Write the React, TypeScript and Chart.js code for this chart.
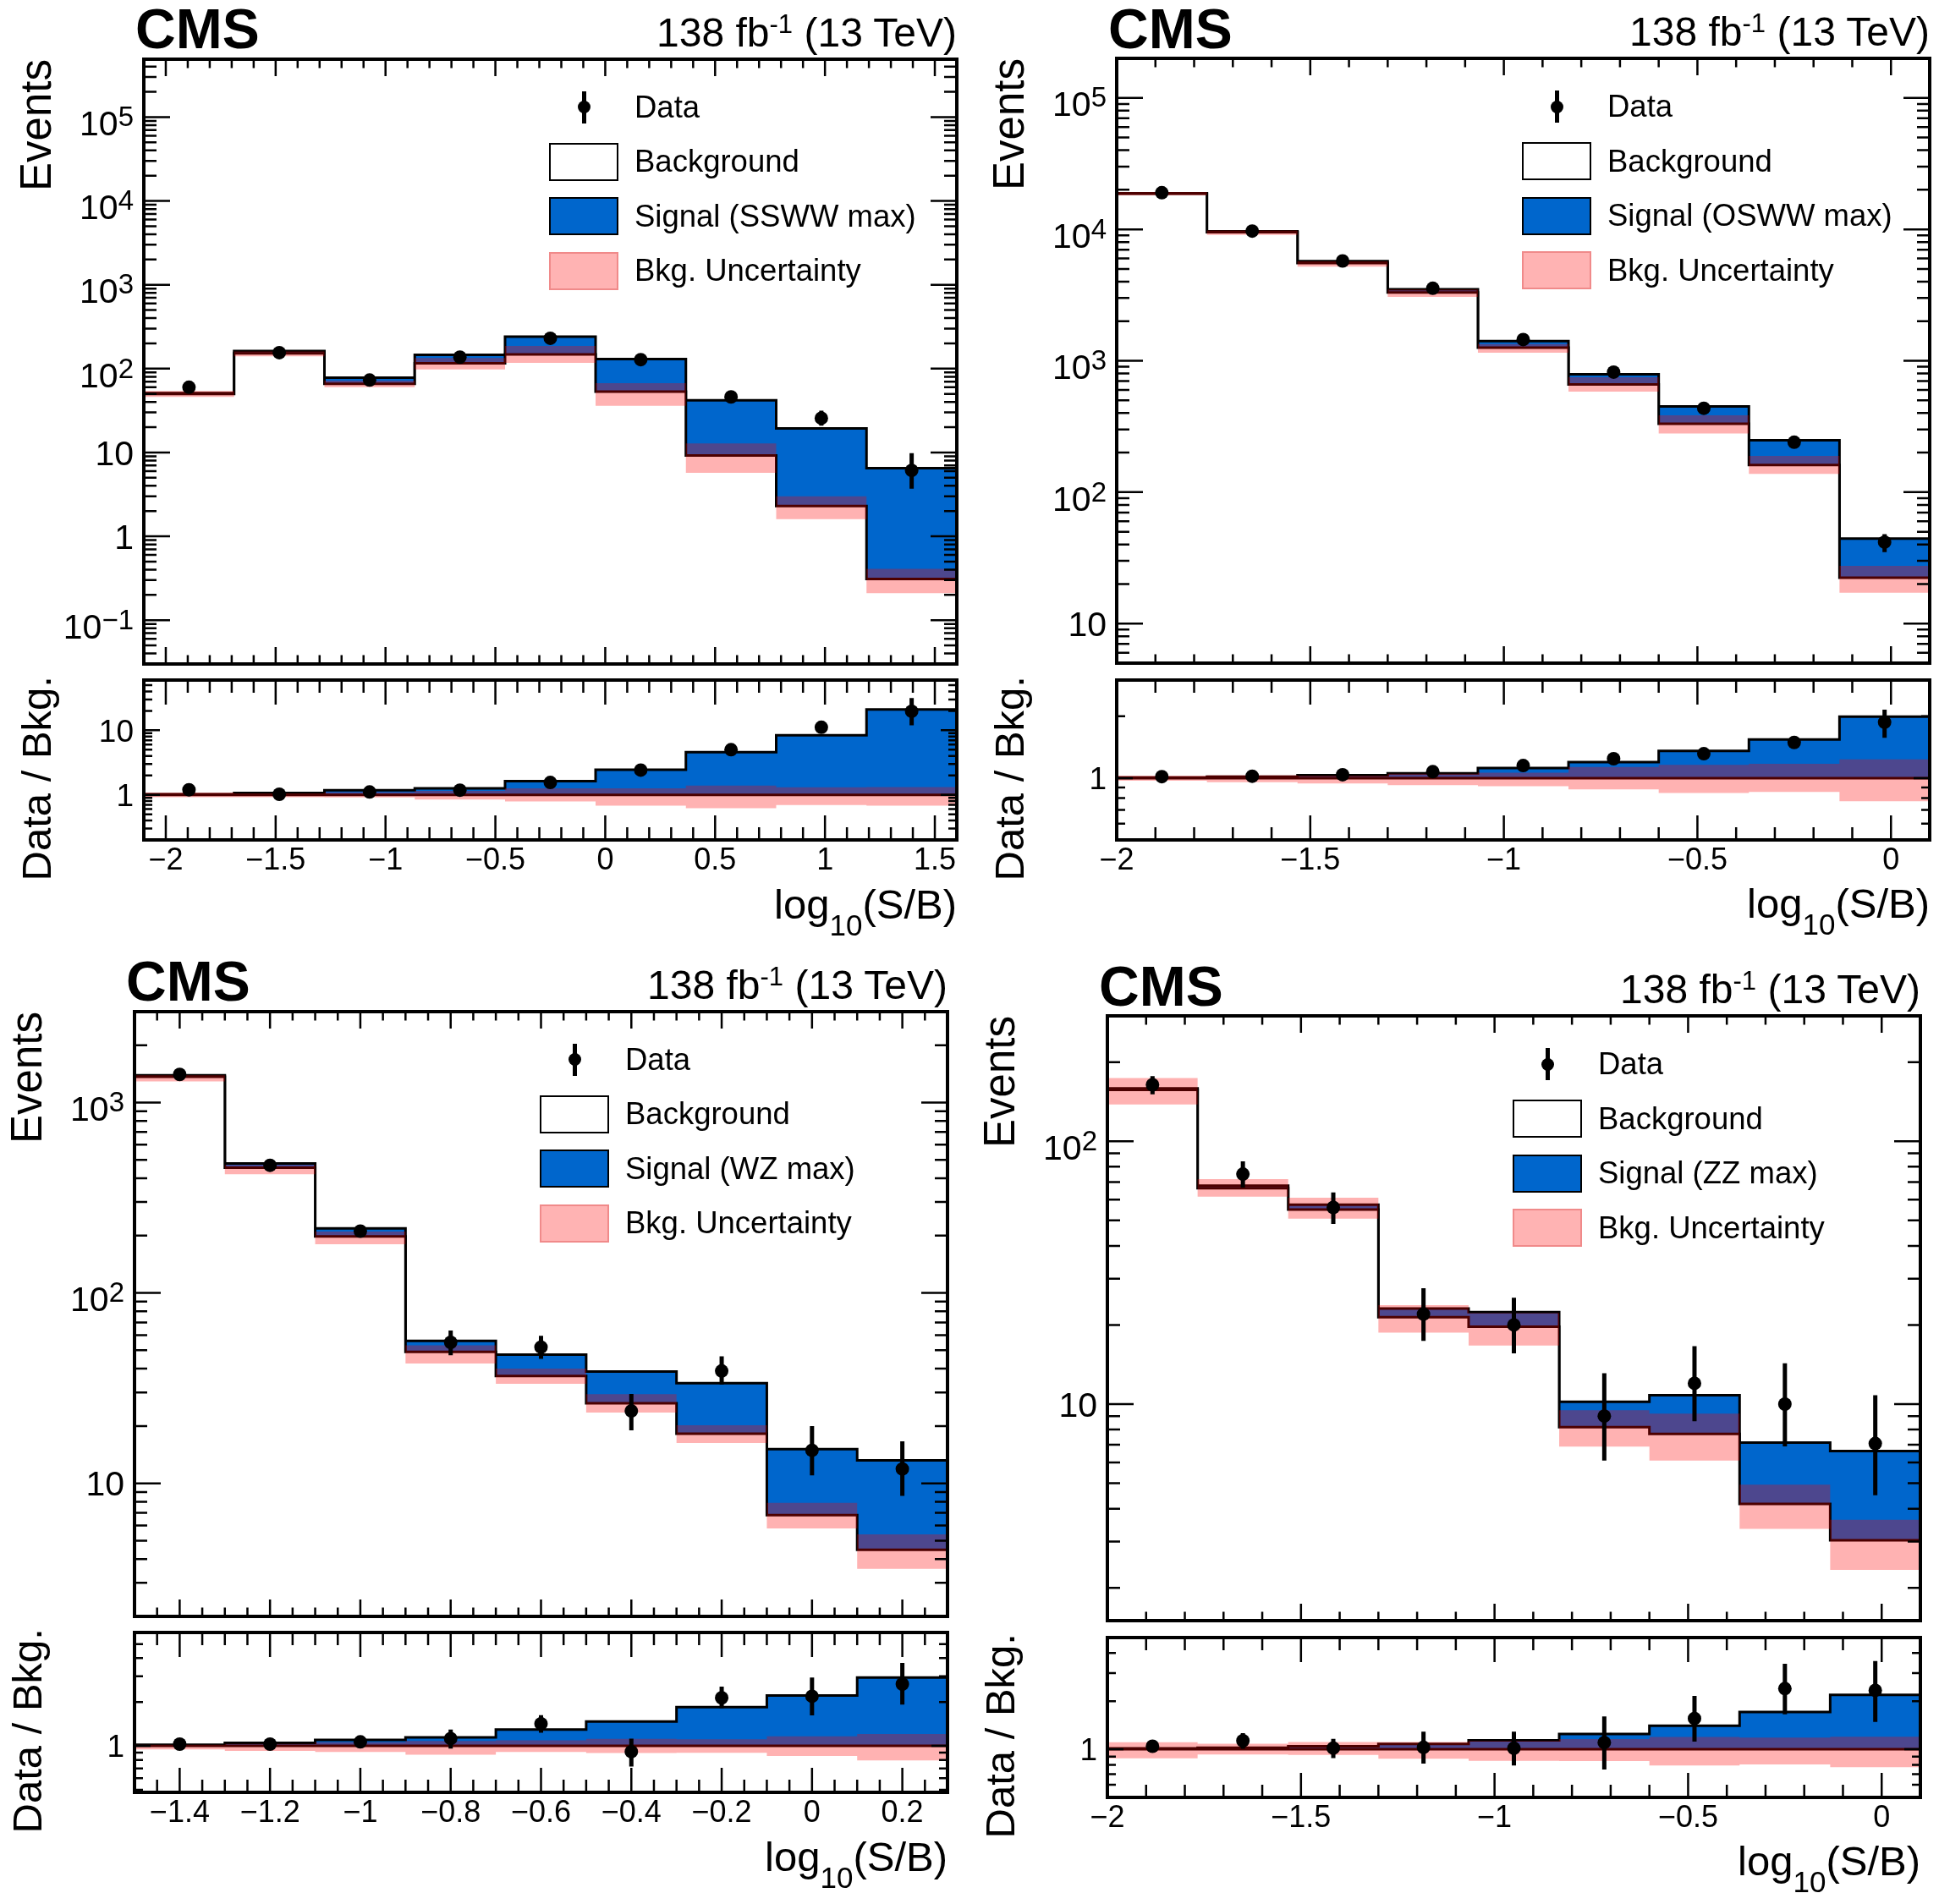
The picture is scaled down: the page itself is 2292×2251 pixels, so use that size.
import { useEffect, useRef } from "react";
import Chart from "chart.js/auto";

const FONT = '"Liberation Sans", Arial, Helvetica, sans-serif';
const BLUE = "#0066cc";
const BAND = "rgba(255, 0, 0, 0.3)";

// same-sign WW
const ssEdges = [-2.1, -1.689, -1.278, -0.867, -0.456, -0.044, 0.367, 0.778, 1.189, 1.6];
const ssBkg = [50, 152, 66, 116, 148, 53, 9.2, 2.3, 0.31];
const ssTotal = [51, 162, 78, 146, 241, 130, 42, 19.3, 6.5];
const ssUncLo = [46, 140, 60, 98, 117, 36, 5.7, 1.6, 0.21];
const ssUncHi = [54, 160, 72, 134, 186, 67, 12.8, 3.0, 0.41];
const ssData = [60, 155, 73, 137, 230, 128, 46, 25.6, 6.1];
const ssDataLo = [53, 143, 65, 126, 215, 117, 40, 20.9, 3.7];
const ssDataHi = [68, 168, 82, 149, 245, 140, 53, 31.6, 9.8];
const ssXTicks = [-2, -1.5, -1, -0.5, 0, 0.5, 1, 1.5];
const ssYTicks = [0.1, 1, 10, 100, 1e3, 1e4, 1e5];
const ssRTicks = [1, 10];

// opposite-sign WW
const osEdges = [-2, -1.767, -1.533, -1.3, -1.067, -0.833, -0.6, -0.367, -0.133, 0.1];
const osBkg = [18700, 9500, 5540, 3315, 1260, 660, 331, 161, 22.3];
const osTotal = [18800, 9650, 5720, 3500, 1410, 790, 449, 248, 44.4];
const osUncLo = [18150, 9070, 5210, 3060, 1150, 582, 280, 138, 17.2];
const osUncHi = [19200, 9800, 5700, 3480, 1340, 748, 384, 189, 27.5];
const osData = [19000, 9700, 5750, 3560, 1450, 820, 435, 240, 41.7];
const osDataLo = [18860, 9600, 5675, 3500, 1412, 791, 414, 225, 35];
const osDataHi = [19140, 9800, 5825, 3620, 1488, 849, 456, 256, 48];
const osXTicks = [-2, -1.5, -1, -0.5, 0];
const osYTicks = [10, 100, 1e3, 1e4, 1e5];
const osRTicks = [1];

// WZ
const wzEdges = [-1.5, -1.3, -1.1, -0.9, -0.7, -0.5, -0.3, -0.1, 0.1, 0.3];
const wzBkg = [1365, 455, 198, 49, 36.6, 26.3, 18.2, 6.8, 4.48];
const wzTotal = [1390, 478, 218, 56, 47.4, 38.6, 33.6, 15.1, 13.2];
const wzUncLo = [1290, 420, 180, 42.6, 33.3, 23.5, 16.3, 5.8, 3.56];
const wzUncHi = [1390, 470, 210, 53, 40, 29.4, 20.2, 7.9, 5.4];
const wzData = [1404, 468, 211, 55, 51.9, 24, 38.9, 14.9, 11.9];
const wzDataLo = [1367, 447, 197, 47, 45, 19, 33, 11, 8.6];
const wzDataHi = [1441, 490, 226, 63.5, 59.5, 29.5, 46.5, 20, 16.6];
const wzXTicks = [-1.4, -1.2, -1, -0.8, -0.6, -0.4, -0.2, 0, 0.2];
const wzYTicks = [10, 100, 1e3];
const wzRTicks = [1];

// ZZ
const zzEdges = [-2, -1.767, -1.533, -1.3, -1.067, -0.833, -0.6, -0.367, -0.133, 0.1];
const zzBkg = [157, 66.3, 55, 21.4, 19.7, 8.17, 7.7, 4.17, 3.03];
const zzTotal = [159, 67.8, 57.4, 23.1, 22.4, 10.2, 10.8, 7.14, 6.63];
const zzUncLo = [138, 61.5, 50.8, 18.7, 16.7, 6.89, 6.1, 3.35, 2.34];
const zzUncHi = [174, 71.8, 61, 23.8, 22.2, 9.48, 9.2, 4.94, 3.63];
const zzData = [164, 75, 56, 22, 20, 9.0, 12.0, 10.0, 7.08];
const zzDataLo = [151, 66.7, 48.5, 17.4, 15.6, 6.1, 8.6, 6.9, 4.5];
const zzDataHi = [177, 83.8, 63.9, 27.6, 25.4, 13.1, 16.6, 14.3, 10.8];
const zzXTicks = [-2, -1.5, -1, -0.5, 0];
const zzYTicks = [10, 100];
const zzRTicks = [1];

const panels = [
  {
    key: "ss", signal: "Signal (SSWW max)",
    edges: ssEdges, bkg: ssBkg, total: ssTotal, uncLo: ssUncLo, uncHi: ssUncHi,
    data: ssData, dataLo: ssDataLo, dataHi: ssDataHi,
    xTicks: ssXTicks, xStep: 0.1, yMin: 0.03, yMax: 4.9e5, yTicks: ssYTicks,
    rMin: 0.2, rMax: 60, rTicks: ssRTicks,
    frame: { left: 170, right: 1131, top: 69.5 },
  },
  {
    key: "os", signal: "Signal (OSWW max)",
    edges: osEdges, bkg: osBkg, total: osTotal, uncLo: osUncLo, uncHi: osUncHi,
    data: osData, dataLo: osDataLo, dataHi: osDataHi,
    xTicks: osXTicks, xStep: 0.1, yMin: 5, yMax: 2e5, yTicks: osYTicks,
    rMin: 0.5, rMax: 3, rTicks: osRTicks,
    frame: { left: 1320, right: 2281, top: 69 },
  },
  {
    key: "wz", signal: "Signal (WZ max)",
    edges: wzEdges, bkg: wzBkg, total: wzTotal, uncLo: wzUncLo, uncHi: wzUncHi,
    data: wzData, dataLo: wzDataLo, dataHi: wzDataHi,
    xTicks: wzXTicks, xStep: 0.05, yMin: 2, yMax: 3000, yTicks: wzYTicks,
    rMin: 0.48, rMax: 6, rTicks: wzRTicks,
    frame: { left: 159, right: 1120, top: 1195.5 },
  },
  {
    key: "zz", signal: "Signal (ZZ max)",
    edges: zzEdges, bkg: zzBkg, total: zzTotal, uncLo: zzUncLo, uncHi: zzUncHi,
    data: zzData, dataLo: zzDataLo, dataHi: zzDataHi,
    xTicks: zzXTicks, xStep: 0.1, yMin: 1.5, yMax: 300, yTicks: zzYTicks,
    rMin: 0.5, rMax: 5, rTicks: zzRTicks,
    frame: { left: 1309, right: 2270, top: 1201 },
  },
];

const MAIN_H = 715;
const GAP = 19.5;
const RATIO_H = 189;
const PAD_L = 150;
const PAD_R = 10;
const PAD_T = 8;

function steps(edges: number[], vals: number[]) {
  const pts = vals.map((v, i) => ({ x: edges[i], y: v }));
  pts.push({ x: edges[edges.length - 1], y: vals[vals.length - 1] });
  return pts;
}

function centers(edges: number[]) {
  return edges.slice(1).map((e, i) => (edges[i] + e) / 2);
}

function xLabel(v: number) {
  if (Math.abs(v) < 1e-9) return "0";
  return (v < 0 ? "\u2212" : "") + String(Math.abs(v));
}

function drawYLabel(ctx: CanvasRenderingContext2D, v: number, xr: number, py: number, size: number) {
  const k = Math.round(Math.log10(v));
  ctx.textAlign = "right";
  if (k === 0 || k === 1) {
    ctx.font = `${size}px ${FONT}`;
    ctx.fillText(k === 0 ? "1" : "10", xr, py + size * 0.36);
    return;
  }
  const exp = k < 0 ? "\u2212" + -k : String(k);
  const sup = Math.round(size * 0.8);
  ctx.font = `${sup}px ${FONT}`;
  const we = ctx.measureText(exp).width;
  ctx.fillText(exp, xr, py + size * 0.53 - 11);
  ctx.font = `${size}px ${FONT}`;
  ctx.fillText("10", xr - we, py + size * 0.53);
}

function makeFrame(s: any) {
  return {
    id: "rootFrame",
    afterDatasetsDraw(chart: any) {
      const { ctx } = chart;
      const xs = chart.scales.x;
      const ys = chart.scales.y;
      ctx.save();
      ctx.strokeStyle = "#000";
      ctx.lineWidth = 5;
      ctx.beginPath();
      s.mids.forEach((x: number, i: number) => {
        const p = xs.getPixelForValue(x);
        ctx.moveTo(p, ys.getPixelForValue(s.ptsLo[i]));
        ctx.lineTo(p, ys.getPixelForValue(s.ptsHi[i]));
      });
      ctx.stroke();
      ctx.restore();
    },
    afterDraw(chart: any) {
      const { ctx, chartArea: a } = chart;
      const xs = chart.scales.x;
      const ys = chart.scales.y;
      const t = s.ratio
        ? { xMaj: 29, xMin: 15, yMaj: 19, yMin: 10, yFont: 37 }
        : { xMaj: 20, xMin: 10.5, yMaj: 31, yMin: 15, yFont: 41 };
      ctx.save();
      ctx.strokeStyle = "#000";
      ctx.fillStyle = "#000";
      ctx.lineWidth = 2.5;
      ctx.beginPath();
      const xTick = (v: number, len: number) => {
        const p = xs.getPixelForValue(v);
        ctx.moveTo(p, a.bottom);
        ctx.lineTo(p, a.bottom - len);
        ctx.moveTo(p, a.top);
        ctx.lineTo(p, a.top + len);
      };
      const yTick = (v: number, len: number) => {
        const p = ys.getPixelForValue(v);
        ctx.moveTo(a.left, p);
        ctx.lineTo(a.left + len, p);
        ctx.moveTo(a.right, p);
        ctx.lineTo(a.right - len, p);
      };
      s.xTicks.forEach((v: number) => xTick(v, t.xMaj));
      for (let i = Math.ceil(s.xMin / s.xStep - 1e-6); i * s.xStep <= s.xMax + 1e-9; i++) {
        const v = i * s.xStep;
        if (!s.xTicks.some((m: number) => Math.abs(m - v) < 1e-6)) xTick(v, t.xMin);
      }
      s.yTicks.forEach((v: number) => yTick(v, t.yMaj));
      const k0 = Math.floor(Math.log10(s.yMin));
      const k1 = Math.ceil(Math.log10(s.yMax));
      for (let k = k0; k <= k1; k++) {
        for (let m = 2; m <= 9; m++) {
          const v = m * Math.pow(10, k);
          if (v >= s.yMin * 0.999 && v <= s.yMax * 1.001) yTick(v, t.yMin);
        }
      }
      ctx.stroke();
      ctx.lineWidth = 4;
      ctx.strokeRect(a.left, a.top, a.right - a.left, a.bottom - a.top);

      ctx.textBaseline = "alphabetic";
      s.yTicks.forEach((v: number) => drawYLabel(ctx, v, a.left - 12, ys.getPixelForValue(v), t.yFont));
      if (s.ratio) {
        ctx.font = `36px ${FONT}`;
        ctx.textAlign = "center";
        s.xTicks.forEach((v: number) => ctx.fillText(xLabel(v), xs.getPixelForValue(v), a.bottom + 34.5));
      }
      ctx.restore();
    },
  };
}

function HistCanvas(props: { spec: any; left: number; top: number; width: number; height: number; padB: number }) {
  const canvasRef = useRef<HTMLCanvasElement | null>(null);
  const s = props.spec;

  useEffect(() => {
    if (canvasRef.current == null) return;
    const hist = (vals: number[], extra: any) => ({
      data: steps(s.edges, vals),
      stepped: true,
      pointRadius: 0,
      borderColor: "#000",
      borderWidth: 3,
      fill: false,
      ...extra,
    });
    const chart = new Chart(canvasRef.current, {
      type: "line",
      data: {
        datasets: [
          hist(s.top, { backgroundColor: BLUE, fill: "start", order: 4 }),
          hist(s.base, { backgroundColor: "#ffffff", fill: "start", order: 3 }),
          hist(s.lo, { borderWidth: 0, order: 2 }),
          hist(s.hi, { borderWidth: 0, backgroundColor: BAND, fill: "-1", order: 2 }),
          {
            data: s.mids.map((x: number, i: number) => ({ x, y: s.pts[i] })),
            showLine: false,
            pointRadius: 8,
            pointBackgroundColor: "#000",
            pointBorderWidth: 0,
            order: 1,
          },
        ],
      } as any,
      options: {
        animation: false,
        responsive: true,
        maintainAspectRatio: false,
        events: [],
        layout: { padding: { left: PAD_L, right: PAD_R, top: PAD_T, bottom: props.padB } },
        scales: {
          x: { type: "linear", min: s.xMin, max: s.xMax, display: false },
          y: { type: "logarithmic", min: s.yMin, max: s.yMax, display: false },
        },
        plugins: { legend: { display: false }, tooltip: { enabled: false } },
      },
      plugins: [makeFrame(s)],
    });
    return () => {
      chart.destroy();
    };
  }, [s]);

  return (
    <div style={{ position: "absolute", left: props.left, top: props.top, width: props.width, height: props.height }}>
      <canvas ref={canvasRef}></canvas>
    </div>
  );
}

function Label(props: { x: number; y: number; size: number; align?: "left" | "right"; bold?: boolean; children: any }) {
  const w = 900;
  const align = props.align || "left";
  return (
    <div
      style={{
        position: "absolute",
        left: align === "left" ? props.x : props.x - w,
        top: props.y - 0.8465 * props.size,
        width: w,
        textAlign: align,
        fontSize: props.size,
        lineHeight: 1,
        fontFamily: FONT,
        fontWeight: props.bold ? 700 : 400,
        whiteSpace: "nowrap",
        color: "#000",
      }}
    >
      {props.children}
    </div>
  );
}

function VLabel(props: { x: number; y: number; size: number; children: any }) {
  const w = 600;
  return (
    <div
      style={{
        position: "absolute",
        left: props.x - 0.8465 * props.size,
        top: props.y + w,
        width: w,
        textAlign: "right",
        fontSize: props.size,
        lineHeight: 1,
        fontFamily: FONT,
        whiteSpace: "nowrap",
        transform: "rotate(-90deg)",
        transformOrigin: "0 0",
        color: "#000",
      }}
    >
      {props.children}
    </div>
  );
}

function Legend(props: { left: number; top: number; signal: string }) {
  const rows = ["Data", "Background", props.signal, "Bkg. Uncertainty"];
  const boxLeft = props.left + 479;
  const cx = boxLeft + 41;
  return (
    <>
      {rows.map((txt, i) => {
        const cy = props.top + 57 + 64.5 * i;
        let mark;
        if (i === 0) {
          mark = (
            <>
              <div style={{ position: "absolute", left: cx - 2.5, top: cy - 19, width: 5, height: 38, background: "#000" }} />
              <div style={{ position: "absolute", left: cx - 7.5, top: cy - 7.5, width: 15, height: 15, borderRadius: "50%", background: "#000" }} />
            </>
          );
        } else {
          const bg = i === 1 ? "#ffffff" : i === 2 ? BLUE : "#ffb3b3";
          const border = i === 3 ? "2px solid #f08a8a" : "2.5px solid #000";
          mark = (
            <div
              style={{
                position: "absolute",
                left: boxLeft,
                top: cy - 22.5,
                width: 82,
                height: 45,
                boxSizing: "border-box",
                background: bg,
                border,
              }}
            />
          );
        }
        return (
          <div key={txt}>
            {mark}
            <Label x={props.left + 580} y={cy + 13} size={36.5}>
              {txt}
            </Label>
          </div>
        );
      })}
    </>
  );
}

function Panel(props: { p: any }) {
  const p = props.p;
  const f = p.frame;
  const w = f.right - f.left;
  const mainBottom = f.top + MAIN_H;
  const ratioTop = mainBottom + GAP;
  const ratioBottom = ratioTop + RATIO_H;
  const mids = centers(p.edges);
  const xMin = p.edges[0];
  const xMax = p.edges[p.edges.length - 1];

  const mainSpec = {
    edges: p.edges, mids, top: p.total, base: p.bkg, lo: p.uncLo, hi: p.uncHi,
    pts: p.data, ptsLo: p.dataLo, ptsHi: p.dataHi,
    xMin, xMax, xTicks: p.xTicks, xStep: p.xStep,
    yMin: p.yMin, yMax: p.yMax, yTicks: p.yTicks, ratio: false,
  };
  // ratio pad: everything divided by the background prediction
  const over = (arr: number[]) => arr.map((v, i) => v / p.bkg[i]);
  const ratioSpec = {
    edges: p.edges, mids, top: over(p.total), base: over(p.bkg), lo: over(p.uncLo), hi: over(p.uncHi),
    pts: over(p.data), ptsLo: over(p.dataLo), ptsHi: over(p.dataHi),
    xMin, xMax, xTicks: p.xTicks, xStep: p.xStep,
    yMin: p.rMin, yMax: p.rMax, yTicks: p.rTicks, ratio: true,
  };

  return (
    <>
      <HistCanvas
        spec={mainSpec}
        left={f.left - PAD_L}
        top={f.top - PAD_T}
        width={w + PAD_L + PAD_R}
        height={MAIN_H + PAD_T + 8}
        padB={8}
      />
      <HistCanvas
        spec={ratioSpec}
        left={f.left - PAD_L}
        top={ratioTop - PAD_T}
        width={w + PAD_L + PAD_R}
        height={RATIO_H + PAD_T + 50}
        padB={50}
      />
      <Label x={f.left - 10} y={f.top - 12.6} size={66} bold>
        CMS
      </Label>
      <Label x={f.right} y={f.top - 14} size={48} align="right">
        138 fb<span style={{ fontSize: 31, position: "relative", top: -16 }}>-1</span> (13 TeV)
      </Label>
      <VLabel x={f.left - 110} y={f.top} size={51}>
        Events
      </VLabel>
      <VLabel x={f.left - 110} y={ratioTop - 5} size={49}>
        Data / Bkg.
      </VLabel>
      <Label x={f.right} y={ratioBottom + 93} size={49} align="right">
        log<span style={{ fontSize: 35, position: "relative", top: 20 }}>10</span>(S/B)
      </Label>
      <Legend left={f.left} top={f.top} signal={p.signal} />
    </>
  );
}

export default function App() {
  return (
    <div style={{ position: "absolute", left: 0, top: 0, width: 2292, height: 2251, background: "#fff", overflow: "hidden" }}>
      {panels.map((p) => (
        <Panel key={p.key} p={p} />
      ))}
    </div>
  );
}
